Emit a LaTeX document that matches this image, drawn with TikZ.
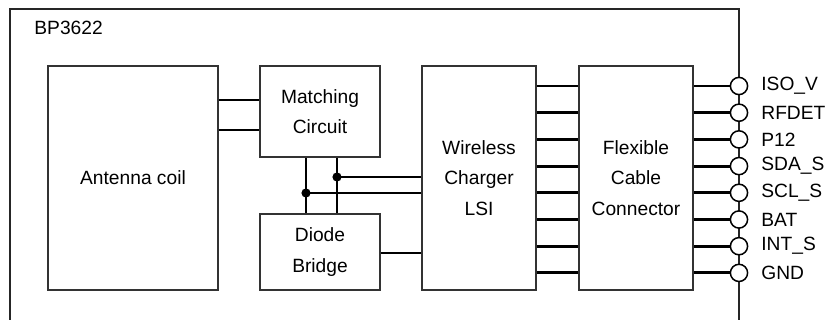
\documentclass[tikz,border=0pt]{standalone}
\usepackage{fontspec}
\setmainfont{Liberation Sans}
\begin{document}
\begin{tikzpicture}[x=0.5pt,y=-0.5pt,
  blk/.style={draw=black!80,line width=0.9pt,inner sep=0pt,align=center,font=\fontsize{9.6pt}{15.3pt}\selectfont},
  wire/.style={line width=1.45pt},
  pin/.style={draw,circle,fill=white,line width=0.75pt,minimum size=8.6pt,inner sep=0pt},
  lbl/.style={anchor=west,inner sep=0pt,font=\fontsize{9.6pt}{11pt}\selectfont},
  jdot/.style={circle,fill=black,minimum size=4.6pt,inner sep=0pt}]
\useasboundingbox (0,0) rectangle (827,320);
% outer box
\draw[line width=0.7pt,draw=black!85] (10,320) -- (10,9) -- (739,9) -- (739,320);
\node[lbl] (title) at (34,28) {BP3622};
% blocks
\node[blk,minimum width=85pt,minimum height=112pt] (ant) at (133,178) {Antenna coil};
\node[blk,minimum width=60pt,minimum height=45.5pt] (match) at (320,111.5) {Matching\\Circuit};
\node[blk,minimum width=60pt,minimum height=38pt] (diode) at (320,252) {Diode\\Bridge};
\node[blk,minimum width=57pt,minimum height=112pt] (wls) at (479,178) {Wireless\\Charger\\LSI};
\node[blk,minimum width=57pt,minimum height=112pt] (flex) at (636,178) {Flexible\\Cable\\Connector};
% antenna to matching
\draw[wire] (ant.east |- {(0,100)}) -- (match.west |- {(0,100)});
\draw[wire] (ant.east |- {(0,130)}) -- (match.west |- {(0,130)});
% matching to diode verticals
\draw[wire] (match.south -| {(306,0)}) -- (diode.north -| {(306,0)});
\draw[wire] (match.south -| {(337,0)}) -- (diode.north -| {(337,0)});
\node[jdot] (j1) at (337,177) {};
\node[jdot] (j2) at (306,193) {};
\draw[wire] (j1.center) -- (wls.west |- j1);
\draw[wire] (j2.center) -- (wls.west |- j2);
\draw[wire] (diode.east |- {(0,253)}) -- (wls.west |- {(0,253)});
% buses and pins
\foreach \i/\t in {0/ISO\_V,1/RFDET,2/P12,3/SDA\_S,4/SCL\_S,5/BAT,6/INT\_S,7/GND}{
  \pgfmathsetmacro{\yy}{86+26.7*\i}
  \draw[wire] (wls.east |- {(0,\yy)}) -- (flex.west |- {(0,\yy)});
  \node[pin] (p\i) at (739,\yy) {};
  \draw[wire] (flex.east |- {(0,\yy)}) -- (p\i.west);
  \node[lbl] (l\i) at (761,\yy) {\t};
}
\end{tikzpicture}
\end{document}
